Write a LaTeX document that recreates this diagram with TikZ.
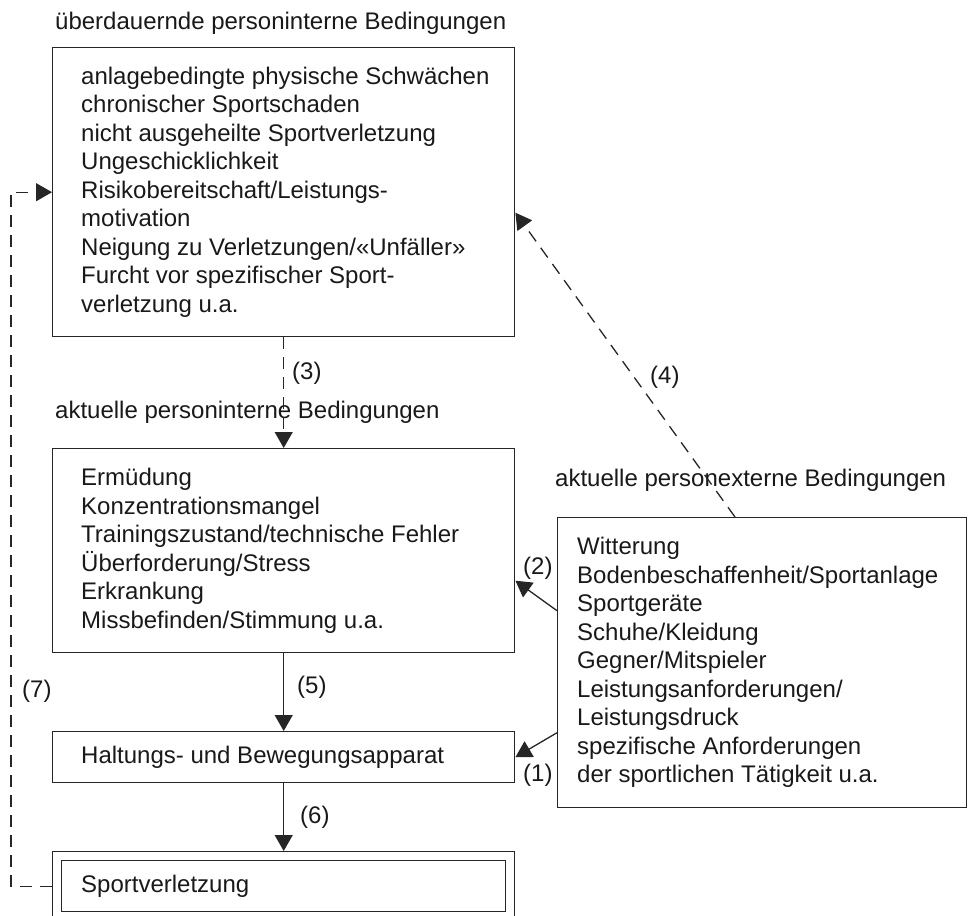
\documentclass[tikz,border=0pt]{standalone}
\usepackage{fontspec}
\setmainfont{Liberation Sans}
\usetikzlibrary{arrows.meta,calc}
\begin{document}
\begin{tikzpicture}[x=1pt,y=-1pt,
  every node/.style={font=\fontsize{24}{28.5}\selectfont, text=black!90},
  boxstyle/.style={draw=black!85, line width=1.4pt, rectangle, inner sep=0pt, anchor=north west},
  txt/.style={inner sep=0pt, align=left, anchor=west},
  lbl/.style={inner sep=0pt, anchor=west},
  conn/.style={draw=black!85, line width=1.3pt, -{Triangle[length=16pt,width=18pt]}},
  dconn/.style={conn, dash pattern=on 12pt off 8pt},
]
\useasboundingbox (0,0) rectangle (971,915);

% titles
\node[lbl] (tA) at (55,23) {überdauernde personinterne Bedingungen};
\node[lbl] (tB) at (55,412) {aktuelle personinterne Bedingungen};
\node[lbl] (tE) at (555,480) {aktuelle personexterne Bedingungen};

% box A
\node[boxstyle, minimum width=462pt, minimum height=289pt] (A) at (52,47) {};
\node[txt] (At) at ([xshift=29pt]A.west) {anlagebedingte physische Schwächen\\
chronischer Sportschaden\\
nicht ausgeheilte Sportverletzung\\
Ungeschicklichkeit\\
Risikobereitschaft/Leistungs-\\
motivation\\
Neigung zu Verletzungen/«Unfäller»\\
Furcht vor spezifischer Sport-\\
verletzung u.a.};

% box B
\node[boxstyle, minimum width=462pt, minimum height=204pt] (B) at (52,448) {};
\node[txt] (Bt) at ([xshift=29pt]B.west) {Ermüdung\\
Konzentrationsmangel\\
Trainingszustand/technische Fehler\\
Überforderung/Stress\\
Erkrankung\\
Missbefinden/Stimmung u.a.};

% box C
\node[boxstyle, minimum width=462pt, minimum height=51pt] (C) at (52,731) {};
\node[txt] (Ct) at ([xshift=29pt]C.west) {Haltungs- und Bewegungsapparat};

% box D (double)
\node[boxstyle, minimum width=462pt, minimum height=69pt] (D) at (52,851) {};
\node[boxstyle, minimum width=444pt, minimum height=51pt] (Di) at (61,860) {};
\node[txt] (Dt) at ([xshift=20pt]Di.west) {Sportverletzung};

% box E
\node[boxstyle, minimum width=409pt, minimum height=290pt] (E) at (557,517) {};
\node[txt] (Et) at ([xshift=20pt]E.west) {Witterung\\
Bodenbeschaffenheit/Sportanlage\\
Sportgeräte\\
Schuhe/Kleidung\\
Gegner/Mitspieler\\
Leistungsanforderungen/\\
Leistungsdruck\\
spezifische Anforderungen\\
der sportlichen Tätigkeit u.a.};

% connectors
\draw[dconn] (A.south) -- (B.north);
\draw[conn] (B.south) -- (C.north);
\draw[conn] (C.south) -- (D.north);
\coordinate (k7) at (11,500);
\draw[dconn] (D.west) -- (D.west -| k7) -- (A.west -| k7) -- (A.west);
\draw[dconn] ([xshift=178pt]E.north west) -- ([yshift=-20.5pt]A.east);
\draw[conn] ([yshift=52pt]E.west) -- ([yshift=-30pt]B.east);
\draw[conn] ([yshift=-70pt]E.west) -- (C.east);

% labels
\node[lbl] (l3) at (292,373) {(3)};
\node[lbl] (l5) at (297,687) {(5)};
\node[lbl] (l6) at (300,817) {(6)};
\node[lbl] (l7) at (22,691) {(7)};
\node[lbl] (l4) at (650,377) {(4)};
\node[lbl] (l2) at (523,568) {(2)};
\node[lbl] (l1) at (523,775) {(1)};
\end{tikzpicture}
\end{document}
